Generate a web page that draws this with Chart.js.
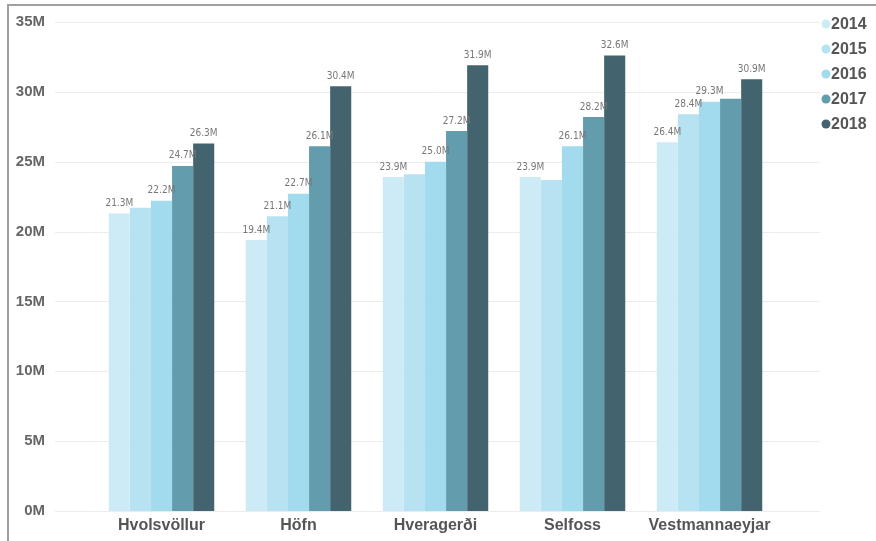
<!DOCTYPE html>
<html>
<head>
<meta charset="utf-8">
<script src="https://cdn.jsdelivr.net/npm/chart.js@4"></script>
<style>
  body { margin: 0; background: #fff; }
  #wrap { position: relative; width: 876px; height: 541px; overflow: hidden; }
  #frame { position: absolute; left: 7px; top: 4px; right: -10px; bottom: -10px;
           border-left: 2px solid #a0a0a0; border-top: 2px solid #a0a0a0; }
  canvas { position: absolute; left: 0; top: 0; }
</style>
</head>
<body>
<div id="wrap">
  <div id="frame"></div>
  <canvas id="townChart" width="876" height="541"></canvas>
</div>
<script>
var towns = ['Hvolsvöllur', 'Höfn', 'Hveragerði', 'Selfoss', 'Vestmannaeyjar'];
var years = ['2014', '2015', '2016', '2017', '2018'];

var values2014 = [21.3, 19.4, 23.9, 23.9, 26.4];
var values2015 = [21.7, 21.1, 24.1, 23.7, 28.4];
var values2016 = [22.2, 22.7, 25.0, 26.1, 29.3];
var values2017 = [24.7, 26.1, 27.2, 28.2, 29.5];
var values2018 = [26.3, 30.4, 31.9, 32.6, 30.9];

// which bars carry a value label in the original
var labels2014 = [true, true, true, true, true];
var labels2015 = [false, true, false, false, true];
var labels2016 = [true, true, true, true, true];
var labels2017 = [true, true, true, true, false];
var labels2018 = [true, true, true, true, true];

var yTicks = [0, 5, 10, 15, 20, 25, 30, 35];

var colors = ['#cdebf6', '#b7e2f1', '#a1dbed', '#639cad', '#43646f'];

var seriesValues = [values2014, values2015, values2016, values2017, values2018];
var seriesLabels = [labels2014, labels2015, labels2016, labels2017, labels2018];

var datasets = years.map(function(y, i) {
  return {
    label: y,
    data: seriesValues[i].map(function(v) { return v * 1e6; }),
    showLabel: seriesLabels[i],
    backgroundColor: colors[i],
    borderWidth: 0,
    categoryPercentage: 0.77,
    barPercentage: 1.0
  };
});

var gridPlugin = {
  id: 'gridLines',
  beforeDatasetsDraw: function(chart) {
    var ctx = chart.ctx, y = chart.scales.y;
    ctx.save();
    ctx.strokeStyle = '#ececec';
    ctx.lineWidth = 1;
    yTicks.forEach(function(t) {
      var py = Math.round(y.getPixelForValue(t * 1e6)) + 0.5;
      ctx.beginPath();
      ctx.moveTo(55, py);
      ctx.lineTo(820, py);
      ctx.stroke();
    });
    ctx.restore();
  }
};

var valueLabelPlugin = {
  id: 'valueLabels',
  afterDatasetsDraw: function(chart) {
    var ctx = chart.ctx;
    ctx.save();
    ctx.font = '10px "Liberation Sans Narrow", "DejaVu Sans Condensed", sans-serif';
    ctx.fillStyle = '#777';
    ctx.textAlign = 'center';
    ctx.textBaseline = 'bottom';
    chart.data.datasets.forEach(function(ds, i) {
      chart.getDatasetMeta(i).data.forEach(function(bar, j) {
        if (!ds.showLabel[j]) return;
        ctx.fillText((ds.data[j] / 1e6).toFixed(1) + 'M', bar.x, bar.y - 5);
      });
    });
    ctx.restore();
  }
};

var legendPlugin = {
  id: 'sideLegend',
  afterDraw: function(chart) {
    var ctx = chart.ctx;
    ctx.save();
    ctx.font = 'bold 16px "Liberation Sans", Arial, sans-serif';
    ctx.textBaseline = 'middle';
    ctx.textAlign = 'left';
    chart.data.datasets.forEach(function(ds, i) {
      var cy = 24 + i * 25;
      ctx.fillStyle = ds.backgroundColor;
      ctx.beginPath();
      ctx.arc(826, cy, 4.5, 0, Math.PI * 2);
      ctx.fill();
      ctx.fillStyle = '#555';
      ctx.fillText(ds.label, 831, cy + 1);
    });
    ctx.restore();
  }
};

var ctx = document.getElementById('townChart').getContext('2d');

var townChart = new Chart(ctx, {
  type: 'bar',
  data: { labels: towns, datasets: datasets },
  options: {
    responsive: false,
    animation: false,
    layout: { padding: { top: 22, right: 98, left: 0, bottom: 0 } },
    plugins: {
      legend: { display: false },
      tooltip: { enabled: false }
    },
    scales: {
      x: {
        grid: { display: false, drawTicks: false },
        border: { display: false },
        ticks: {
          color: '#555',
          padding: 5,
          maxRotation: 0,
          font: { family: '"Liberation Sans", Arial, sans-serif', size: 16, weight: 'bold' }
        },
        afterFit: function(scale) {
          scale.height = 30;
          scale.paddingLeft = 0;
          scale.paddingRight = 0;
        }
      },
      y: {
        min: 0,
        max: 35e6,
        grid: { display: false, drawTicks: false },
        border: { display: false },
        ticks: {
          stepSize: 5e6,
          padding: 48,
          color: '#666',
          font: { family: '"Liberation Sans", Arial, sans-serif', size: 15, weight: 'bold' },
          callback: function(v) { return (v / 1e6) + 'M'; }
        },
        afterFit: function(scale) {
          scale.width = 93;
          scale.paddingTop = 0;
          scale.paddingBottom = 0;
        }
      }
    }
  },
  plugins: [gridPlugin, valueLabelPlugin, legendPlugin]
});
</script>
</body>
</html>
